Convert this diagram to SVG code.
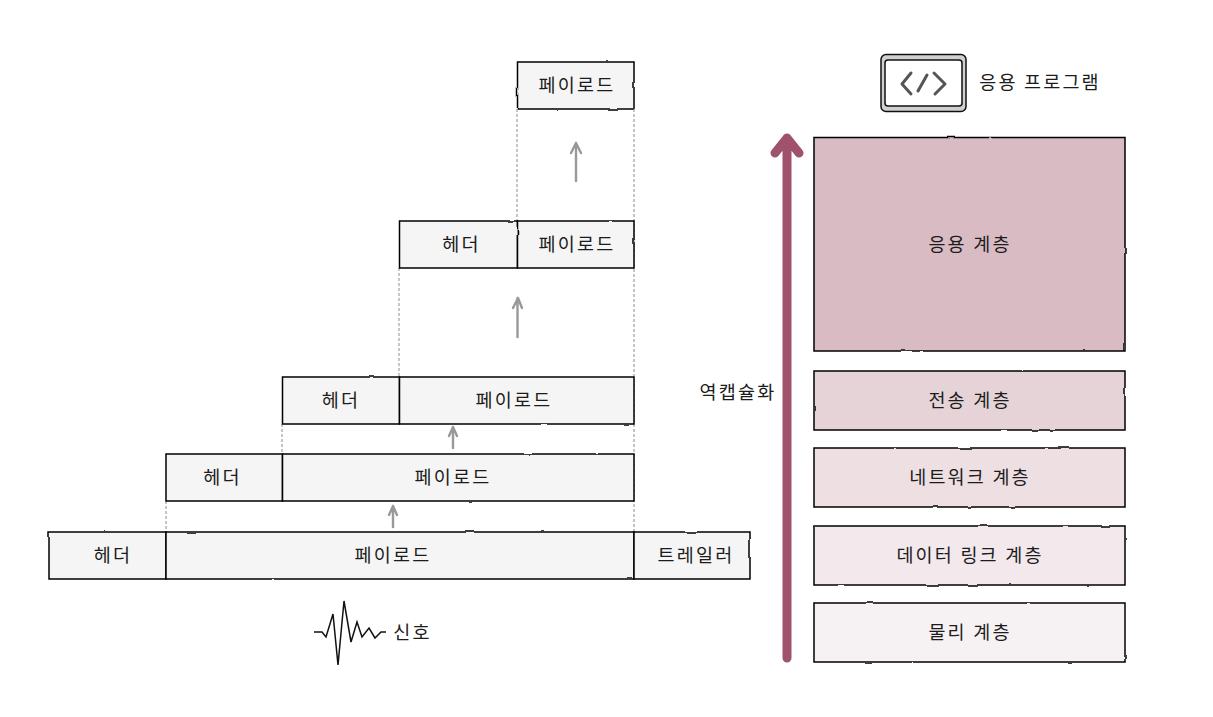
<svg xmlns="http://www.w3.org/2000/svg" width="1213" height="717" viewBox="0 0 1213 717">
<style>
.b{stroke:#000;stroke-width:1.5;filter:url(#w)}
.g{fill:#f5f5f5}
.t{font-family:"Noto Sans CJK KR","Noto Sans",sans-serif;font-size:18.500px;letter-spacing:2.200px;fill:#1c1c1c;text-anchor:middle;dominant-baseline:central}
.d{fill:none;stroke:#8c8c8c;stroke-width:1;stroke-dasharray:3 2}
.a{fill:none;stroke:#999;stroke-width:2.400;stroke-linecap:round;stroke-linejoin:round}
</style>
<defs>
<filter id="w" x="-3%" y="-8%" width="106%" height="116%"><feTurbulence type="fractalNoise" baseFrequency="0.05" numOctaves="2" seed="4"/><feDisplacementMap in="SourceGraphic" scale="2" xChannelSelector="R" yChannelSelector="G"/></filter>
</defs>
<g id="connectors">
<path class="d" d="M517 109V221M634 109V532M399 268V377M282 424V454M166 501V532"/>
<path class="a" d="M576 181V143M571 153L576 143L581 153"/>
<path class="a" d="M517.500 337V298M513 308L518 298L522 308"/>
<path class="a" d="M453 448V427M449 436L453 427L457 436"/>
<path class="a" d="M393 527V506M389 515L393 506L397 515"/>
<path fill="none" stroke="#a0526c" stroke-width="9" stroke-linecap="round" stroke-linejoin="round" d="M787 658V138M775 153L787 138L799 153"/>
</g>
<g id="payload-0"><rect class="b g" x="517.500" y="62" width="116.500" height="47"/><text class="t" x="577" y="84">페이로드</text></g>
<g id="header-1"><rect class="b g" x="399.500" y="221" width="118" height="47"/><text class="t" x="461.500" y="243">헤더</text></g>
<g id="payload-1"><rect class="b g" x="517.500" y="221" width="116.500" height="47"/><text class="t" x="577" y="243">페이로드</text></g>
<g id="header-2"><rect class="b g" x="282.500" y="377" width="117" height="47"/><text class="t" x="341" y="399">헤더</text></g>
<g id="payload-2"><rect class="b g" x="399.500" y="377" width="234.500" height="47"/><text class="t" x="514" y="399">페이로드</text></g>
<g id="header-3"><rect class="b g" x="166" y="454" width="116.500" height="47"/><text class="t" x="222.500" y="476">헤더</text></g>
<g id="payload-3"><rect class="b g" x="282.500" y="454" width="351.500" height="47"/><text class="t" x="453" y="476">페이로드</text></g>
<g id="header-4"><rect class="b g" x="49" y="532" width="117" height="47"/><text class="t" x="113" y="554">헤더</text></g>
<g id="payload-4"><rect class="b g" x="166" y="532" width="468" height="47"/><text class="t" x="393" y="554">페이로드</text></g>
<g id="trailer-4"><rect class="b g" x="634" y="532" width="116" height="47"/><text class="t" x="696" y="554">트레일러</text></g>
<g id="signal"><path fill="none" stroke="#111" stroke-width="1.500" stroke-linejoin="miter" d="M314 632L322 632L326 637L333 614L338 665L344 601L351 642L357 622L362 637L369 628L375 638L381 632L386 632"/><text class="t" x="412.500" y="631">신호</text></g>
<g id="app-program"><rect x="881" y="54.500" width="85" height="57" rx="5" fill="#d0d0d0" stroke="#111" stroke-width="1.500"/><rect x="885" y="60" width="77" height="46" rx="3" fill="#fff" stroke="#111" stroke-width="1.500"/><path fill="none" stroke="#555" stroke-width="3" stroke-linecap="round" stroke-linejoin="round" d="M911 73L902 84L911 94M934 73L945 84L935 94M918 91L927 75"/><text class="t" x="1040" y="81">응용 프로그램</text></g>
<g id="encapsulation"><text class="t" x="738" y="391">역캡슐화</text></g>
<g id="layer-app"><rect class="b" fill="#d9bbc4" x="814" y="137.500" width="311" height="213.500"/><text class="t" x="970" y="243">응용 계층</text></g>
<g id="layer-transport"><rect class="b" fill="#e6d3d8" x="814" y="371" width="311" height="59"/><text class="t" x="970" y="399">전송 계층</text></g>
<g id="layer-network"><rect class="b" fill="#eedfe3" x="814" y="448" width="311" height="59"/><text class="t" x="970" y="476">네트워크 계층</text></g>
<g id="layer-link"><rect class="b" fill="#f3e8ec" x="814" y="526" width="311" height="59"/><text class="t" x="970" y="554">데이터 링크 계층</text></g>
<g id="layer-physical"><rect class="b" fill="#f6f1f3" x="814" y="603" width="311" height="59"/><text class="t" x="970" y="631">물리 계층</text></g>
</svg>
